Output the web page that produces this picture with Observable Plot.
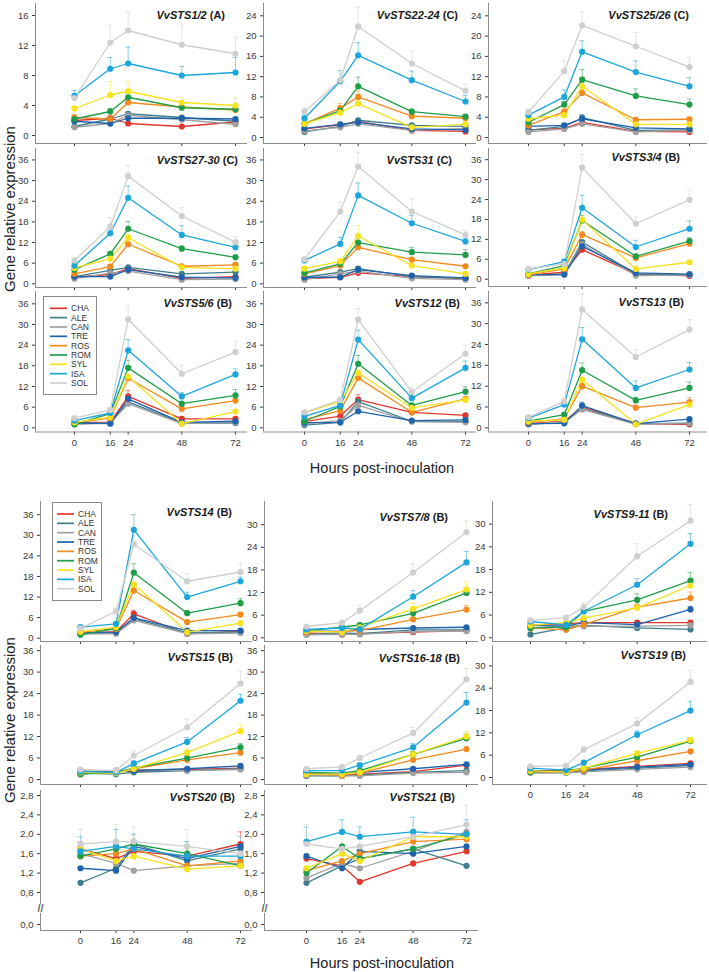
<!DOCTYPE html>
<html><head><meta charset="utf-8">
<script src="https://cdn.jsdelivr.net/npm/d3@7"></script>
<script src="https://cdn.jsdelivr.net/npm/@observablehq/plot@0.6"></script>
<style>
body{margin:0;background:#fff;}
#root{position:relative;width:709px;height:972px;overflow:hidden;background:#fff;font-family:"Liberation Sans",Arial,sans-serif;}
.ttl{position:absolute;font-weight:bold;font-size:11px;color:#1a1a1a;text-align:right;white-space:nowrap;line-height:14px;}
.ylab{position:absolute;font-size:15px;color:#222;white-space:nowrap;transform:translate(-50%,-50%) rotate(-90deg);}
.xlab{position:absolute;font-size:14.5px;color:#222;white-space:nowrap;transform:translate(-50%,-50%);}
</style></head><body><div id="root"></div>
<script>
// ---------- data ----------
const times = [0, 16, 24, 48, 72];
const cultivars = ["CHA","ALE","CAN","TRE","ROS","ROM","SYL","ISA","SOL"];
const seriesColors = ["#e2362c","#3f7f8c","#a0a0a0","#1f62ad","#f28a1e","#1f9e4a","#f6e21f","#1ca6dc","#cfcfcf"];
const genes = ["VvSTS1/2","VvSTS22-24","VvSTS25/26","VvSTS27-30","VvSTS31","VvSTS3/4","VvSTS5/6","VvSTS12","VvSTS13",
               "VvSTS14","VvSTS7/8","VvSTS9-11","VvSTS15","VvSTS16-18","VvSTS19","VvSTS20","VvSTS21"];
const groups = ["A","C","C","C","C","B","B","B","B","B","B","B","B","B","B","B","B"];

// values: rows in cultivar order (CHA, ALE, CAN, TRE, ROS, ROM, SYL, ISA, SOL), columns = times
const sts1_2 = [[2.0,2.3,1.6,1.2,1.8],[1.2,2.2,2.9,2.4,1.9],[1.1,1.6,2.7,2.1,1.5],[1.9,1.6,2.3,2.3,2.2],[2.4,2.2,4.4,3.8,3.4],[2.2,3.2,5.1,3.7,3.5],[3.6,5.4,5.9,4.4,4.0],[5.3,8.9,9.6,8.0,8.4],[5.0,12.4,14.0,12.1,10.9]];
const sts1_2_err = [null,null,[0.2,0.3,0.5,0.3,0.3],null,[0.4,0.5,0.6,0.3,0.3],[0.3,0.4,0.5,0.3,0.3],[0.3,1.8,1.3,0.7,1.0],[0.7,1.5,2.2,1.2,2.0],[0.5,2.3,2.4,2.6,2.2]];
const sts22_24 = [[1.7,2.5,3.2,1.4,1.2],[1.1,2.2,3.4,2.4,2.2],[1.3,2.0,2.7,1.4,1.8],[1.8,2.6,3.0,1.7,1.5],[2.7,5.8,8.0,4.2,3.8],[2.7,5.3,10.1,5.1,4.1],[2.7,4.9,6.7,2.0,2.6],[3.8,11.1,16.2,11.3,7.1],[5.1,11.3,21.9,14.6,9.2]];
const sts22_24_err = [null,null,null,null,[0.3,0.9,1.2,0.4,0.3],[0.3,0.6,1.8,0.5,0.4],[0.2,0.5,0.8,0.3,0.3],[0.6,2.1,2.5,1.8,1.2],[0.7,1.9,3.8,2.4,1.4]];
const sts25_26 = [[1.5,1.8,3.0,1.2,1.1],[1.4,2.2,3.9,1.4,1.5],[1.1,1.7,2.7,1.1,1.4],[2.2,2.4,3.7,1.9,1.7],[2.4,5.1,8.8,3.5,3.6],[3.0,6.5,11.4,8.2,6.5],[3.7,4.4,10.1,2.6,2.6],[4.4,8.0,16.9,12.9,10.1],[5.0,13.1,22.1,18.0,13.9]];
const sts25_26_err = [null,null,null,[0.2,0.3,0.8,0.2,0.2],[0.3,0.5,0.7,0.4,0.4],[0.3,0.6,2.0,1.4,1.1],[0.3,0.4,0.8,0.3,0.3],[0.4,1.4,2.2,2.2,1.7],[0.5,2.0,2.7,2.7,1.9]];
const sts27_30 = [[1.9,2.7,4.4,1.6,2.1],[2.1,3.9,4.8,2.9,3.4],[1.5,3.1,3.7,1.2,1.4],[2.1,2.1,4.1,1.9,1.7],[2.9,5.0,11.5,5.1,5.5],[4.1,8.7,16.0,10.2,7.7],[4.6,7.3,13.4,4.8,4.4],[5.3,14.7,25.0,14.2,10.6],[6.8,16.6,31.3,19.7,12.1]];
const sts27_30_err = [null,null,null,null,[0.3,0.6,1.0,0.5,0.5],[0.4,0.7,2.1,0.8,0.7],[0.4,1.5,1.0,0.5,0.5],[0.6,1.2,3.4,2.7,0.9],[0.7,2.6,3.1,2.4,1.6]];
const sts31 = [[1.5,1.9,3.2,2.1,1.5],[1.9,3.4,4.4,2.1,1.6],[1.2,2.9,3.7,1.6,1.2],[1.9,1.9,4.1,2.4,1.7],[2.9,5.3,10.6,7.0,5.1],[3.2,5.8,12.0,9.2,8.4],[4.4,6.5,13.9,5.3,2.9],[6.8,11.6,25.7,17.6,12.3],[7.1,21.0,34.1,21.0,14.2]];
const sts31_err = [null,null,null,null,[0.3,0.5,0.8,0.6,0.4],[0.4,0.6,1.2,1.4,1.5],[0.4,0.6,3.0,0.7,0.4],[0.5,1.9,3.6,2.3,0.9],[0.6,2.7,4.1,3.7,1.3]];
const sts3_4 = [[1.2,2.1,8.9,1.6,1.0],[1.1,1.6,11.2,1.6,1.3],[1.0,1.4,10.5,1.1,1.2],[1.4,1.4,9.9,1.9,1.5],[1.3,3.1,13.4,6.4,10.7],[1.6,4.1,17.7,6.9,11.5],[1.6,3.4,17.9,3.1,5.1],[2.9,5.3,21.5,9.7,15.2],[3.1,4.6,33.6,16.7,23.9]];
const sts3_4_err = [null,null,null,null,[0.3,0.4,1.0,0.5,0.7],[0.3,0.5,1.5,0.6,1.0],[0.3,0.4,1.2,0.4,0.5],[0.4,0.6,3.8,2.0,2.3],[0.4,0.6,4.0,2.0,2.9]];
const sts5_6 = [[1.6,1.6,9.1,2.6,2.6],[1.2,1.4,7.5,1.4,1.4],[1.0,1.4,7.0,1.2,1.6],[1.4,1.2,8.4,1.6,1.9],[1.5,2.8,14.4,5.5,7.9],[1.0,4.1,17.4,7.0,9.4],[1.6,3.1,14.9,1.2,4.7],[2.1,4.3,22.5,9.1,15.5],[2.8,5.2,31.5,15.7,22.0]];
const sts5_6_err = [[0.2,0.3,1.7,0.4,0.4],null,null,null,[0.2,0.4,1.0,0.5,0.6],[0.2,0.5,2.2,0.6,1.7],null,[0.3,0.5,3.1,1.1,1.6],[0.4,0.7,4.0,2.4,3.2]];
const sts12 = [[1.8,3.4,8.2,4.5,3.6],[0.8,1.6,7.6,1.9,1.8],[1.2,2.1,6.5,1.8,1.6],[1.5,1.6,4.8,2.1,2.3],[2.4,5.0,14.5,4.5,8.4],[1.9,6.2,18.6,6.5,10.5],[4.4,7.6,15.9,5.8,8.1],[3.3,6.5,25.6,8.6,17.4],[4.5,8.1,31.4,10.4,21.5]];
const sts12_err = [[0.3,0.4,1.4,0.5,0.4],null,null,null,null,[0.3,0.5,2.4,0.6,1.4],[0.3,0.5,1.0,0.6,0.7],[0.4,0.6,2.7,0.9,2.0],[0.4,0.6,3.2,1.2,2.4]];
const sts13 = [[1.2,1.9,6.0,1.2,1.0],[1.0,1.6,5.5,1.2,1.3],[1.0,1.8,5.3,1.0,1.4],[1.2,1.3,6.4,1.2,2.5],[1.6,2.6,12.0,5.8,7.4],[1.9,3.8,16.6,7.9,11.5],[1.9,2.3,13.9,1.0,6.7],[2.8,6.7,25.5,11.5,16.8],[3.1,7.6,34.1,20.4,28.3]];
const sts13_err = [null,null,null,[0.2,0.2,1.0,0.2,0.4],[0.2,0.3,0.8,0.6,1.3],[0.3,0.4,2.1,0.9,1.7],null,[0.3,0.5,3.4,2.0,2.0],[0.4,0.6,4.6,2.1,2.9]];
const sts14 = [[1.5,1.9,7.1,1.3,2.0],[1.5,1.6,5.6,1.6,1.8],[1.3,1.3,5.2,1.3,1.5],[1.5,1.8,5.9,2.2,2.2],[1.8,2.7,13.9,4.7,6.9],[1.0,2.9,19.1,7.3,10.2],[1.9,3.2,15.7,1.8,4.4],[3.2,4.2,31.6,12.0,16.6],[2.9,7.8,27.4,16.6,19.3]];
const sts14_err = [[0.2,0.3,1.0,0.3,0.3],null,null,null,[0.2,0.3,1.0,0.5,0.6],[0.2,0.4,2.6,0.6,1.3],null,[0.3,0.5,4.4,1.4,1.2],[0.4,0.7,2.5,2.2,2.6]];
const sts7_8 = [[1.1,0.9,1.1,1.5,1.9],[0.9,1.3,1.1,2.1,2.1],[0.8,0.9,0.9,1.7,1.8],[1.8,1.7,2.2,2.6,2.8],[1.5,1.7,1.9,4.9,7.5],[1.9,2.8,3.4,6.5,11.9],[1.8,1.5,2.8,7.7,12.8],[2.2,2.6,2.3,10.9,20.0],[3.0,4.0,7.2,17.3,28.0]];
const sts7_8_err = [null,null,null,null,[0.2,0.2,0.3,0.5,1.1],[0.2,0.3,0.5,0.9,1.3],[0.2,0.2,0.3,1.5,2.0],[0.3,0.3,0.4,1.6,2.9],[0.3,0.4,1.4,2.3,3.0]];
const sts9_11 = [[3.3,3.7,4.0,4.0,4.0],[0.9,2.6,3.3,2.6,2.2],[2.4,3.3,3.0,3.1,3.3],[3.3,3.1,4.0,3.5,7.5],[2.6,2.1,3.5,8.1,10.5],[2.6,2.8,7.0,10.0,15.1],[3.3,4.0,5.2,7.9,13.8],[4.3,3.4,7.0,14.0,24.8],[4.6,5.3,8.1,21.5,30.9]];
const sts9_11_err = [null,null,null,[0.3,0.3,0.4,0.5,0.8],[0.3,0.3,0.4,0.8,1.6],[0.3,0.3,0.6,1.6,2.1],[0.3,0.3,0.5,0.7,1.0],[0.4,0.4,0.8,1.6,2.7],[0.4,0.5,1.1,3.3,4.2]];
const sts15 = [[1.5,2.5,2.2,2.8,3.2],[1.8,1.5,2.0,2.5,3.0],[2.5,2.2,2.8,2.5,2.8],[2.0,2.2,2.5,3.0,3.8],[1.8,1.8,3.0,5.5,7.5],[1.5,2.0,3.2,6.0,9.0],[2.0,1.8,3.0,7.5,13.5],[2.2,2.0,4.5,10.5,22.0],[2.8,2.5,6.7,14.6,26.8]];
const sts15_err = [null,null,null,null,null,[0.2,0.2,0.4,0.8,1.0],[0.3,0.3,0.4,1.0,1.8],[0.3,0.3,0.6,1.2,1.8],[0.4,0.4,1.3,2.2,3.5]];
const sts16_18 = [[1.3,1.2,1.5,2.2,4.0],[1.0,1.0,1.3,2.0,2.5],[1.2,1.0,1.0,1.8,2.0],[1.8,1.5,2.0,3.0,4.2],[1.5,1.2,1.8,5.5,8.5],[2.0,1.8,2.5,7.0,11.5],[1.5,1.5,2.0,7.0,12.0],[2.5,2.5,4.0,9.0,21.5],[3.0,3.5,6.0,13.0,28.0]];
const sts16_18_err = [null,null,null,null,null,[0.2,0.2,0.3,0.8,1.2],[0.2,0.2,0.3,0.8,1.5],[0.3,0.3,0.5,1.0,2.8],[0.4,0.4,0.8,1.5,3.0]];
const sts19 = [[1.8,2.0,2.2,3.0,3.8],[1.5,1.5,1.8,2.5,3.2],[1.2,1.2,1.5,2.2,2.8],[1.8,1.5,2.0,2.8,3.5],[1.5,1.5,2.0,4.5,7.0],[1.5,1.8,2.5,5.5,9.8],[1.8,1.5,2.5,6.5,10.0],[2.5,2.0,4.0,11.5,18.0],[3.0,3.2,7.5,14.5,25.7]];
const sts19_err = [null,null,null,null,null,[0.2,0.2,0.3,0.6,0.8],[0.2,0.2,0.3,0.6,0.8],[0.3,0.3,0.5,1.0,2.5],[0.4,0.4,1.0,1.5,3.1]];
const sts20 = [[1.70,1.50,1.65,1.55,1.80],[1.00,1.30,1.80,1.45,1.70],[1.60,1.40,1.25,1.35,1.40],[1.30,1.25,1.75,1.50,1.75],[1.55,1.60,1.70,1.35,1.45],[1.55,1.70,1.80,1.60,1.35],[1.70,1.45,1.55,1.28,1.35],[1.65,1.75,1.70,1.55,1.55],[1.80,1.85,1.85,1.75,1.60]];
const sts20_err = [[0.15,0.2,0.2,0.2,0.25],null,null,null,[0.2,0.2,0.2,0.2,0.2],null,null,[0.3,0.35,0.3,0.3,0.4],[0.3,0.35,0.3,0.35,0.35]];
const sts21 = [[1.50,1.35,1.02,1.40,1.65],[1.00,1.35,1.50,1.70,1.35],[1.10,1.40,1.30,1.65,2.05],[1.55,1.30,1.65,1.60,1.75],[1.25,1.45,1.60,1.85,1.90],[1.20,1.75,1.50,1.70,2.00],[1.30,1.60,1.45,1.95,1.95],[1.85,2.05,1.95,2.05,2.00],[1.80,1.70,1.75,1.95,2.20]];
const sts21_err = [null,null,null,null,null,null,null,[0.3,0.25,0.2,0.3,0.3],[0.4,0.3,0.3,0.3,0.4]];

const panelValues = [sts1_2,sts22_24,sts25_26,sts27_30,sts31,sts3_4,sts5_6,sts12,sts13,sts14,sts7_8,sts9_11,sts15,sts16_18,sts19,sts20,sts21];
const panelErrors = [sts1_2_err,sts22_24_err,sts25_26_err,sts27_30_err,sts31_err,sts3_4_err,sts5_6_err,sts12_err,sts13_err,sts14_err,sts7_8_err,sts9_11_err,sts15_err,sts16_18_err,sts19_err,sts20_err,sts21_err];
const ticks16 = [0,4,8,12,16];
const ticks24 = [0,4,8,12,16,20,24];
const ticks30 = [0,6,12,18,24,30];
const ticks36 = [0,6,12,18,24,30,36];
const ticksBroken = [0,0.8,1.2,1.6,2.0,2.4,2.8];

// ---------- layout (page pixels) ----------
const layout = [
 {axisX:35, x0:74, x72:235, right:247, top:3, bottom:143, y0:135, ppu:7.5, ticks:ticks16, xlab:false, tx:225, ty:15},
 {axisX:263, x0:304, x72:465, right:476, top:3, bottom:143, y0:137, ppu:5.07, ticks:ticks24, xlab:false, tx:458, ty:15},
 {axisX:488, x0:528, x72:689, right:707, top:3, bottom:143, y0:137, ppu:5.07, ticks:ticks24, xlab:false, tx:689, ty:15},
 {axisX:35, x0:74, x72:235, right:247, top:148, bottom:287, y0:283.3, ppu:3.44, ticks:ticks36, xlab:false, tx:238, ty:160},
 {axisX:263, x0:304, x72:465, right:476, top:148, bottom:287, y0:283.3, ppu:3.44, ticks:ticks36, xlab:false, tx:452, ty:160},
 {axisX:488, x0:528, x72:689, right:707, top:148, bottom:286, y0:278.7, ppu:3.32, ticks:ticks36, xlab:false, tx:680, ty:157},
 {axisX:35, x0:74, x72:235, right:247, top:291, bottom:431.5, y0:427.3, ppu:3.444, ticks:ticks36, xlab:true, tx:232, ty:303},
 {axisX:263, x0:304, x72:465, right:476, top:291, bottom:431.5, y0:427.3, ppu:3.444, ticks:ticks36, xlab:true, tx:460, ty:303},
 {axisX:488, x0:528, x72:689, right:707, top:291, bottom:431.5, y0:427.3, ppu:3.47, ticks:ticks36, xlab:true, tx:684, ty:302},
 {axisX:40, x0:80, x72:240, right:252, top:501, bottom:641, y0:637.7, ppu:3.43, ticks:ticks36, xlab:false, tx:232, ty:512},
 {axisX:264, x0:306, x72:466, right:478, top:501, bottom:641, y0:637.3, ppu:3.77, ticks:ticks30, xlab:false, tx:448, ty:517},
 {axisX:492, x0:530, x72:690, right:707, top:501, bottom:641, y0:637.3, ppu:3.79, ticks:ticks30, xlab:false, tx:668, ty:514},
 {axisX:40, x0:80, x72:240, right:252, top:645, bottom:784, y0:779, ppu:3.58, ticks:ticks36, xlab:false, tx:233, ty:657},
 {axisX:264, x0:306, x72:466, right:478, top:645, bottom:784, y0:779, ppu:3.58, ticks:ticks36, xlab:false, tx:460, ty:658},
 {axisX:492, x0:530, x72:690, right:707, top:645, bottom:784, y0:777, ppu:3.72, ticks:ticks30, xlab:true, tx:686, ty:655},
 {axisX:40, x0:80, x72:240, right:252, top:790, bottom:930, y0:924, y08:892, ppu:48.5, ticks:ticksBroken, broken:true, xlab:true, tx:235, ty:797},
 {axisX:264, x0:306, x72:466, right:478, top:790, bottom:930, y0:924, y08:892, ppu:48.5, ticks:ticksBroken, broken:true, xlab:true, tx:455, ty:797}
];

const root = document.getElementById("root");
const axisGrey = "#8c8c8c";

function drawPanel(k) {
  const L = layout[k], vals = panelValues[k], errs = panelErrors[k];
  const mL = 34, mR = 4, mT = 6, mB = 24;
  const pxh = (L.x72 - L.x0) / 72;
  const xL = (L.axisX - L.x0) / pxh;
  const xR = (L.right - L.x0) / pxh;
  const svgLeft = L.axisX - mL, svgTop = L.top - mT;
  const width = L.right - L.axisX + mL + mR;
  const height = L.bottom - L.top + mT + mB;
  const rows = [];
  cultivars.forEach((c, i) => times.forEach((t, j) => rows.push({c, t, v: vals[i][j]})));
  const errRows = [];
  cultivars.forEach((c, i) => { const e = errs[i]; if (!e) return; times.forEach((t, j) => { if (e[j] > 0) errRows.push({c, t, v: vals[i][j], e: e[j]}); }); });
  const capH = 2.6 / pxh;
  let yOpt, yb, yt;
  const marks = [];
  if (L.broken) {
    yb = -(L.bottom - L.y0) / 40;
    yt = 0.8 + (L.y08 - L.top) / L.ppu;
    yOpt = {type: "linear", domain: [yb, 0, 0.8, yt], range: [L.bottom, L.y0, L.y08, L.top].map(p => p - svgTop),
            ticks: L.ticks, tickFormat: d => d.toFixed(1).replace(".", ","), tickSize: 3, tickPadding: 4, label: null};
    marks.push(Plot.ruleX([xL], {y1: yb, y2: 0.28, stroke: axisGrey}));
    marks.push(Plot.ruleX([xL], {y1: 0.5, y2: yt, stroke: axisGrey}));
    marks.push(Plot.text(["//"], {x: xL, y: 0.39, text: d => d, fontSize: 11, fill: "#666", fontWeight: "bold"}));
  } else {
    yb = -(L.bottom - L.y0) / L.ppu;
    yt = (L.y0 - L.top) / L.ppu;
    yOpt = {domain: [yb, yt], ticks: L.ticks, tickSize: 3, tickPadding: 4, label: null};
    marks.push(Plot.ruleX([xL], {stroke: axisGrey}));
  }
  marks.push(Plot.ruleY([yb], {stroke: axisGrey}));
  marks.push(Plot.ruleX(errRows, {x: "t", y1: "v", y2: d => d.v + d.e, stroke: "c", strokeOpacity: 0.5, strokeWidth: 1}));
  marks.push(Plot.ruleY(errRows, {y: d => d.v + d.e, x1: d => d.t - capH, x2: d => d.t + capH, stroke: "c", strokeOpacity: 0.5, strokeWidth: 1}));
  marks.push(Plot.line(rows, {x: "t", y: "v", z: "c", stroke: "c", strokeWidth: 1.3}));
  marks.push(Plot.dot(rows, {x: "t", y: "v", fill: "c", r: 3.1, stroke: "none"}));
  const svg = Plot.plot({
    width, height, marginLeft: mL, marginRight: mR, marginTop: mT, marginBottom: mB,
    style: {background: "transparent", overflow: "visible", fontSize: "9.5px", fontFamily: "'Liberation Sans', Arial, sans-serif", color: "#3a3a3a"},
    x: {domain: [xL, xR], ticks: times, tickSize: 3, tickPadding: 4, tickFormat: L.xlab ? (d => String(d)) : (() => ""), label: null},
    y: yOpt,
    color: {domain: cultivars, range: seriesColors},
    marks
  });
  svg.style.position = "absolute";
  svg.style.left = svgLeft + "px";
  svg.style.top = svgTop + "px";
  svg.style.maxWidth = "none";
  root.appendChild(svg);
  const t = document.createElement("div");
  t.className = "ttl";
  t.style.left = "0px";
  t.style.width = L.tx + "px";
  t.style.top = (L.ty - 7) + "px";
  t.innerHTML = "<i>" + genes[k] + "</i> (" + groups[k] + ")";
  root.appendChild(t);
}
for (let k = 0; k < genes.length; k++) drawPanel(k);

// legends
function drawLegend(left, top, w, h, lineX0, lineX1, textX, firstY) {
  const svg = d3.create("svg").attr("width", w).attr("height", h)
    .style("position", "absolute").style("left", left + "px").style("top", top + "px");
  svg.append("rect").attr("x", 0.5).attr("y", 0.5).attr("width", w - 1).attr("height", h - 1)
    .attr("fill", "#fff").attr("stroke", "#8a8a8a");
  cultivars.forEach((c, i) => {
    const y = firstY + i * 9.34;
    svg.append("line").attr("x1", lineX0).attr("x2", lineX1).attr("y1", y).attr("y2", y)
      .attr("stroke", seriesColors[i]).attr("stroke-width", 1.7);
    svg.append("text").attr("x", textX).attr("y", y).attr("dy", "0.35em").text(c)
      .attr("font-size", 8.5).attr("font-family", "'Liberation Sans', Arial, sans-serif").attr("fill", "#333");
  });
  root.appendChild(svg.node());
}
drawLegend(43, 296, 54, 99, 7, 24, 28, 12.3);
drawLegend(52, 502, 50, 99, 5, 22, 26, 12);

// axis titles
function addText(cls, txt, x, y) {
  const d = document.createElement("div");
  d.className = cls; d.textContent = txt;
  d.style.left = x + "px"; d.style.top = y + "px";
  root.appendChild(d);
}
addText("ylab", "Gene relative expression", 9, 209);
addText("ylab", "Gene relative expression", 9, 720);
addText("xlab", "Hours post-inoculation", 382, 468);
addText("xlab", "Hours post-inoculation", 382, 963);
</script></body></html>
